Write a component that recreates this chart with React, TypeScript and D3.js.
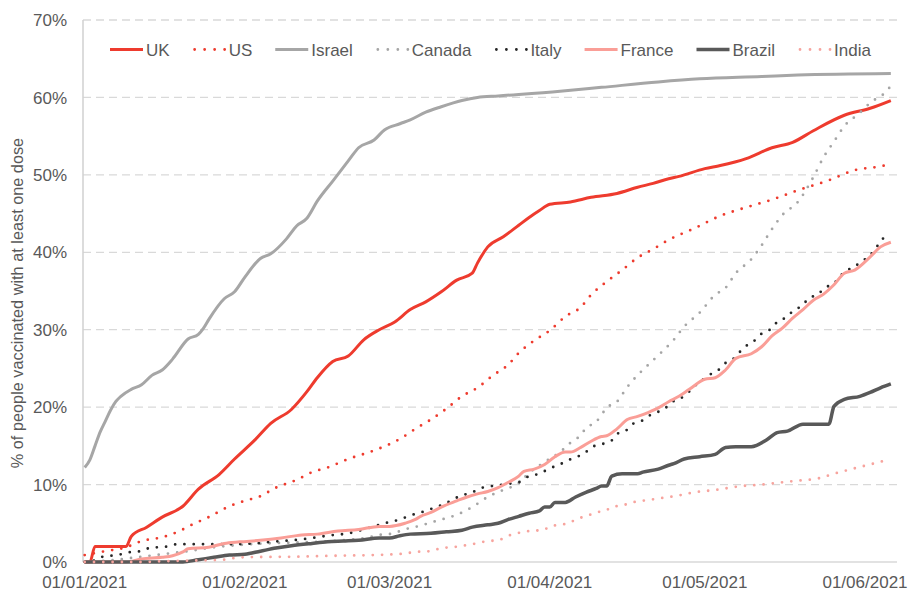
import React, { useEffect, useRef } from "react";
import * as d3 from "d3";

// ---------- DATA (day offset from 01/01/2021, % with at least one dose) ----------
const seriesNames = ["UK", "US", "Israel", "Canada", "Italy", "France", "Brazil", "India"];

const xTickLabels = ["2021-01-01", "2021-02-01", "2021-03-01", "2021-04-01", "2021-05-01", "2021-06-01"];
const yTickValues = [0, 10, 20, 30, 40, 50, 60, 70];

const ukValues: [number, number][] = [
  [0, 0], [1, 0], [2, 2.0], [8, 2.0], [9, 3.3], [12, 4.5], [15, 5.8], [19, 7.2], [22, 9.4], [26, 11.3],
  [29, 13.3], [33, 15.8], [36, 17.9], [40, 19.7], [43, 22.0], [45, 23.8], [48, 25.9], [51, 26.6],
  [54, 28.7], [57, 30.0], [60, 31.0], [63, 32.6], [66, 33.6], [69, 34.9], [72, 36.4], [75, 37.3],
  [76, 38.6], [78, 40.7], [81, 42.0], [84, 43.5], [86, 44.5], [88, 45.4], [90, 46.2], [94, 46.5],
  [98, 47.1], [103, 47.6], [107, 48.4], [110, 48.9], [113, 49.5], [115, 49.8], [120, 50.8],
  [123, 51.2], [128, 52.1], [133, 53.5], [137, 54.2], [141, 55.7], [147, 57.7], [152, 58.6], [156, 59.6],
];

const usValues: [number, number][] = [
  [0, 0.9], [4, 1.4], [8, 1.9], [11, 2.7], [15, 3.2], [18, 3.9], [21, 4.9], [24, 5.8], [28, 7.2],
  [31, 7.9], [34, 8.5], [37, 9.6], [41, 10.6], [44, 11.6], [47, 12.2], [51, 13.3], [56, 14.4],
  [61, 15.9], [64, 17.2], [67, 18.4], [70, 19.8], [73, 21.4], [76, 22.5], [79, 24.1], [82, 25.5],
  [84, 27.0], [87, 28.6], [90, 29.9], [93, 31.7], [96, 32.9], [98, 34.5], [101, 36.2], [104, 37.7],
  [107, 39.3], [110, 40.4], [113, 41.6], [118, 43.1], [123, 44.7], [128, 45.8], [133, 46.8],
  [138, 48.0], [144, 49.3], [149, 50.6], [154, 51.1], [156, 51.4],
];

const israelValues: [number, number][] = [
  [0, 12.2], [1, 13.2], [2, 15.0], [3, 16.8], [4, 18.2], [5, 19.6], [6, 20.7], [7, 21.4], [9, 22.3],
  [11, 22.9], [13, 24.1], [15, 24.8], [17, 26.2], [20, 28.8], [22, 29.4], [23, 30.2], [24, 31.3],
  [27, 34.0], [29, 34.9], [31, 36.8], [34, 39.2], [36, 39.8], [39, 41.7], [41, 43.4], [43, 44.4],
  [45, 46.6], [48, 49.2], [51, 51.8], [53, 53.5], [56, 54.5], [58, 55.8], [61, 56.6], [63, 57.1],
  [66, 58.1], [69, 58.8], [73, 59.6], [76, 60.0], [80, 60.2], [92, 60.8], [100, 61.3], [111, 62.0],
  [119, 62.4], [131, 62.7], [138, 62.9], [156, 63.1],
];

const canadaValues: [number, number][] = [
  [0, 0], [5, 0.2], [10, 0.6], [15, 1.0], [20, 1.4], [25, 1.9], [30, 2.2], [35, 2.4], [40, 2.5],
  [45, 2.6], [50, 2.8], [55, 3.2], [57, 3.5], [60, 3.7], [61, 4.0], [65, 4.7], [68, 5.3], [72, 6.1],
  [75, 7.1], [78, 8.4], [81, 9.3], [84, 10.2], [86, 11.5], [89, 12.9], [92, 14.2], [94, 15.4],
  [96, 16.4], [97, 17.3], [99, 18.1], [100, 19.0], [101, 19.9], [103, 20.7], [105, 22.6], [106, 23.4],
  [111, 26.7], [114, 28.7], [116, 30.4], [119, 32.2], [122, 34.5], [124, 35.4], [126, 37.3],
  [129, 39.1], [131, 40.9], [133, 43.0], [135, 44.8], [138, 46.5], [141, 49.7], [143, 52.3],
  [145, 54.3], [147, 56.3], [150, 58.0], [152, 59.3], [155, 60.7], [156, 61.5],
];

const italyValues: [number, number][] = [
  [0, 0], [2, 0.2], [3, 0.6], [5, 0.8], [7, 1.0], [9, 1.3], [11, 1.4], [13, 1.9], [15, 1.9], [17, 2.2],
  [18, 2.3], [28, 2.3], [33, 2.4], [36, 2.6], [40, 2.8], [44, 3.1], [47, 3.4], [51, 3.7], [55, 4.4],
  [58, 5.0], [61, 5.5], [63, 6.0], [66, 6.6], [68, 7.1], [70, 7.6], [71, 8.0], [73, 8.6], [75, 9.0],
  [77, 9.6], [80, 9.9], [82, 10.1], [84, 10.3], [86, 11.1], [88, 11.4], [90, 12.1], [92, 12.6],
  [93, 13.0], [95, 13.5], [97, 14.2], [98, 14.8], [100, 15.2], [102, 15.7], [103, 16.5], [105, 17.1],
  [106, 17.8], [108, 18.3], [109, 18.8], [111, 19.4], [113, 20.2], [114, 20.8], [116, 21.4],
  [118, 22.7], [121, 24.2], [123, 25.0], [124, 25.7], [126, 26.5], [127, 27.3], [128, 27.9],
  [130, 28.8], [131, 29.5], [133, 30.2], [134, 31.0], [136, 31.7], [137, 32.4], [139, 33.2],
  [140, 34.0], [142, 34.6], [143, 35.3], [145, 36.0], [146, 36.7], [147, 37.5], [149, 38.1],
  [150, 38.7], [152, 39.6], [153, 40.5], [154, 41.3], [155, 42.3],
];

const franceValues: [number, number][] = [
  [0, 0], [8, 0], [11, 0.4], [15, 0.6], [17, 0.8], [19, 1.3], [20, 1.7], [24, 1.9], [27, 2.4], [30, 2.6],
  [34, 2.8], [38, 3.1], [42, 3.5], [45, 3.6], [49, 4.0], [53, 4.2], [57, 4.6], [59, 4.6], [62, 5.0],
  [64, 5.5], [65, 5.9], [67, 6.4], [69, 7.1], [72, 7.9], [74, 8.4], [76, 8.8], [78, 9.1], [80, 9.6],
  [82, 10.3], [84, 11.1], [85, 11.7], [87, 12.0], [89, 12.6], [91, 13.6], [93, 14.2], [94, 14.2],
  [96, 14.8], [98, 15.6], [100, 16.2], [101, 16.3], [103, 17.2], [105, 18.4], [107, 18.8], [109, 19.3],
  [111, 19.9], [113, 20.7], [115, 21.4], [117, 22.3], [120, 23.6], [122, 23.8], [124, 24.8], [126, 26.3],
  [129, 26.9], [131, 27.8], [133, 29.2], [135, 30.2], [137, 31.5], [139, 32.6], [141, 33.8], [143, 34.6],
  [145, 35.8], [147, 37.3], [149, 37.7], [152, 39.4], [154, 40.7], [156, 41.3],
];

const brazilValues: [number, number][] = [
  [0, 0], [19, 0], [22, 0.3], [25, 0.6], [28, 0.9], [31, 1.0], [34, 1.4], [37, 1.8], [40, 2.1], [44, 2.4],
  [47, 2.6], [50, 2.7], [53, 2.8], [57, 3.1], [59, 3.1], [61, 3.4], [63, 3.6], [67, 3.7], [70, 3.9],
  [73, 4.1], [75, 4.5], [78, 4.8], [80, 5.0], [82, 5.5], [84, 5.9], [86, 6.3], [88, 6.6], [89, 7.1],
  [90, 7.1], [91, 7.7], [93, 7.7], [95, 8.4], [97, 9.0], [99, 9.5], [100, 9.8], [101, 9.8], [102, 11.1],
  [104, 11.4], [107, 11.4], [108, 11.6], [111, 12.0], [113, 12.5], [114, 12.7], [116, 13.3], [119, 13.6],
  [122, 13.9], [124, 14.8], [126, 14.9], [129, 14.9], [132, 15.8], [134, 16.7], [136, 16.9], [139, 17.8],
  [144, 17.8], [145, 20.1], [147, 21.0], [150, 21.4], [152, 21.9], [154, 22.5], [156, 23.0],
];

const indiaValues: [number, number][] = [
  [0, 0], [11, 0], [15, 0.1], [22, 0.2], [27, 0.3], [30, 0.6], [42, 0.7], [48, 0.8], [56, 0.9], [60, 1.0],
  [62, 1.1], [64, 1.3], [67, 1.4], [69, 1.8], [71, 1.9], [75, 2.3], [78, 2.7], [80, 2.8], [82, 3.4],
  [83, 3.6], [85, 3.9], [89, 4.2], [90, 4.6], [92, 4.8], [94, 5.1], [95, 5.5], [97, 5.9], [99, 6.4],
  [101, 6.7], [102, 7.1], [104, 7.3], [106, 7.7], [109, 8.0], [111, 8.2], [115, 8.6], [118, 9.0],
  [122, 9.3], [127, 9.8], [131, 10.0], [135, 10.3], [138, 10.5], [142, 10.8], [145, 11.4], [149, 12.1],
  [152, 12.6], [156, 13.3],
];

const seriesValues = [ukValues, usValues, israelValues, canadaValues, italyValues, franceValues, brazilValues, indiaValues];

// ---------- STYLES ----------
const seriesStyles = [
  { color: "#EE3B2E", dotted: false, width: 3 },
  { color: "#EE3B2E", dotted: true, width: 2.8 },
  { color: "#A6A6A6", dotted: false, width: 3 },
  { color: "#A6A6A6", dotted: true, width: 2.8 },
  { color: "#262626", dotted: true, width: 2.8 },
  { color: "#FA9E97", dotted: false, width: 3 },
  { color: "#595959", dotted: false, width: 3.5 },
  { color: "#F7A49E", dotted: true, width: 2.8 },
];

const W = 913;
const H = 593;
const M = { left: 84.7, right: 865, top: 20, bottom: 562, plotRight: 897, axisX: 83 };
const FONT = "'Liberation Sans', Arial, sans-serif";
const TEXT = "#595959";

export default function App() {
  const ref = useRef<SVGSVGElement | null>(null);

  useEffect(() => {
    const svg = d3.select(ref.current);
    svg.selectAll("*").remove();

    const parse = d3.utcParse("%Y-%m-%d");
    const start = parse(xTickLabels[0]) as Date;
    const end = parse(xTickLabels[xTickLabels.length - 1]) as Date;
    const x = d3.scaleUtc().domain([start, end]).range([M.left, M.right]);
    const y = d3.scaleLinear().domain([0, 70]).range([M.bottom, M.top]);
    const toDate = (d: number) => d3.utcDay.offset(start, d);

    svg.append("rect").attr("width", W).attr("height", H).attr("fill", "#fff");

    // gridlines
    const grid = svg.append("g");
    yTickValues.filter((v) => v > 0).forEach((v) => {
      grid.append("line")
        .attr("x1", M.axisX).attr("x2", M.plotRight)
        .attr("y1", y(v)).attr("y2", y(v))
        .attr("stroke", "#D9D9D9").attr("stroke-width", 1.3)
        .attr("stroke-dasharray", "8 5");
    });

    // axes lines
    svg.append("line")
      .attr("x1", M.axisX).attr("x2", M.axisX).attr("y1", M.top).attr("y2", M.bottom)
      .attr("stroke", "#D0D0D0").attr("stroke-width", 1.5);
    svg.append("line")
      .attr("x1", M.axisX).attr("x2", M.plotRight).attr("y1", M.bottom).attr("y2", M.bottom)
      .attr("stroke", "#D9D9D9").attr("stroke-width", 1.5);

    // y tick labels
    const fmtY = (v: number) => `${v}%`;
    svg.append("g").selectAll("text").data(yTickValues).join("text")
      .attr("x", 67).attr("y", (d) => y(d)).attr("dy", "0.36em")
      .attr("text-anchor", "end").attr("font-family", FONT).attr("font-size", 17)
      .attr("fill", TEXT).text(fmtY);

    // x tick labels
    const fmtX = d3.utcFormat("%d/%m/%Y");
    svg.append("g").selectAll("text").data(xTickLabels.map((s) => parse(s) as Date)).join("text")
      .attr("x", (d) => x(d)).attr("y", 588)
      .attr("text-anchor", "middle").attr("font-family", FONT).attr("font-size", 17)
      .attr("fill", TEXT).text((d) => fmtX(d));

    // y axis title
    svg.append("text")
      .attr("transform", `translate(23,${(M.top + M.bottom) / 2 + 12}) rotate(-90)`)
      .attr("text-anchor", "middle").attr("font-family", FONT).attr("font-size", 16.3)
      .attr("fill", TEXT).text("% of people vaccinated with at least one dose");

    // series
    const line = d3.line<[number, number]>()
      .x((d) => x(toDate(d[0])))
      .y((d) => y(d[1]))
      .curve(d3.curveMonotoneX);

    const lines = svg.append("g");
    seriesValues.forEach((vals, i) => {
      const st = seriesStyles[i];
      const p = lines.append("path")
        .attr("d", line(vals))
        .attr("fill", "none")
        .attr("stroke", st.color)
        .attr("stroke-width", st.width)
        .attr("stroke-linejoin", "round");
      if (st.dotted) p.attr("stroke-dasharray", "0 9.3").attr("stroke-linecap", "round");
    });

    // legend
    const lg = svg.append("g");
    let cx = 110;
    const ly = 49.5;
    seriesNames.forEach((name, i) => {
      const st = seriesStyles[i];
      const g = lg.append("g");
      const sample = g.append("line")
        .attr("x1", st.dotted ? cx + 2 : cx).attr("x2", cx + 33)
        .attr("y1", ly).attr("y2", ly)
        .attr("stroke", st.color).attr("stroke-width", st.width);
      if (st.dotted) sample.attr("stroke-dasharray", "0 10").attr("stroke-linecap", "round");
      const t = g.append("text")
        .attr("x", cx + 36).attr("y", ly).attr("dy", "0.36em")
        .attr("font-family", FONT).attr("font-size", 17).attr("fill", TEXT).text(name);
      const tw = (t.node() as SVGTextElement).getComputedTextLength();
      cx = cx + 36 + tw + 23;
    });
  }, []);

  return (
    <svg
      ref={ref}
      width={W}
      height={H}
      style={{ position: "absolute", left: 0, top: 0, display: "block" }}
    />
  );
}
